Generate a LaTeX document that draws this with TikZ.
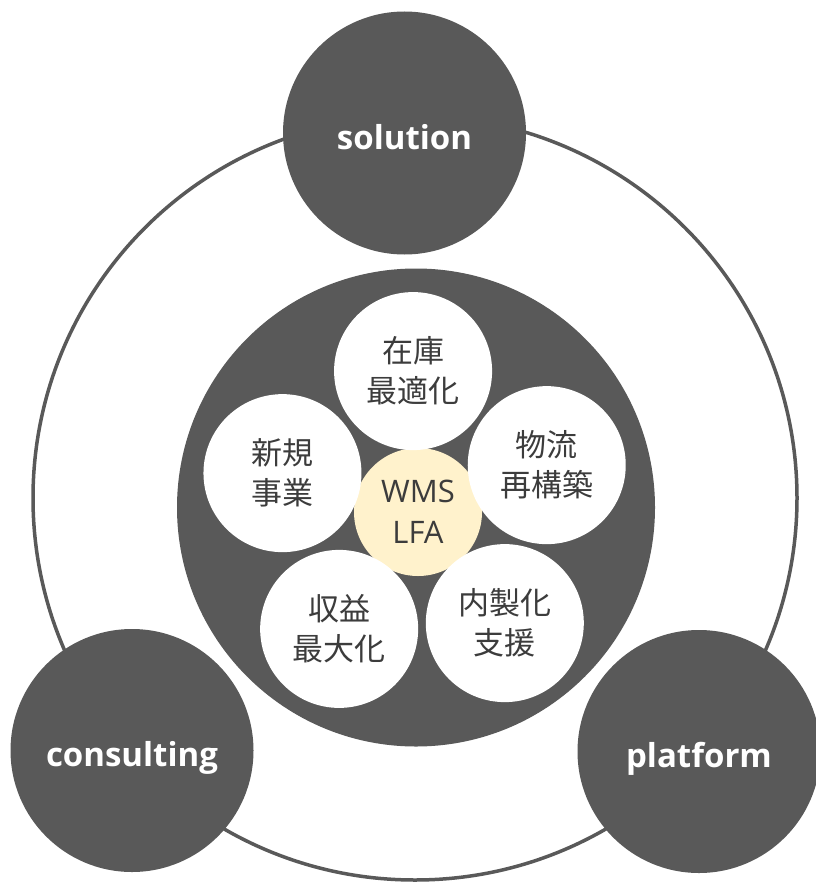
\documentclass[tikz,border=0pt]{standalone}
\usepackage{fontspec}
\setmainfont{Open Sans}
\newfontfamily\jpfont{Noto Sans CJK JP}
\definecolor{ballgray}{HTML}{595959}
\definecolor{wmsyellow}{HTML}{FFF2CC}
\definecolor{textgray}{HTML}{3C3C3C}

\begin{document}
\begin{tikzpicture}[
    x=1pt,y=1pt,
    every node/.style={circle,inner sep=0pt,outer sep=0pt,text centered},
    ball/.style={fill=ballgray,minimum size=243pt,text=white,font=\fontsize{33}{33}\selectfont\bfseries,text height=32pt,text depth=0pt},
    petal/.style={fill=white,minimum size=158pt,text=textgray,align=center,font=\jpfont\fontsize{31}{40}\selectfont}
    ]
    \useasboundingbox (0,0) rectangle (816,-883);

    \node[draw=ballgray,line width=3.5pt,minimum size=764pt] (ring) at (415,-498) {};
    \node[ball] (solution) at (404.5,-133) {solution};
    \node[ball] (consulting) at (132,-750.5) {consulting};
    \node[ball] (platform) at (699,-751.5) {platform};

    \node[fill=ballgray,minimum size=478pt] (hub) at (416,-507.5) {};
    \node[fill=wmsyellow,minimum size=128pt,text=textgray,align=center,font=\fontsize{31}{41}\selectfont] (wms) at (418,-512) {WMS\\LFA};
    \node[petal,shift={(92:141)}] (stock) at (wms) {在庫\\最適化};
    \node[petal,shift={(20:137)}] (logistics) at (wms) {物流\\再構築};
    \node[petal,shift={(164:141)}] (newbiz) at (wms) {新規\\事業};
    \node[petal,shift={(236:141)}] (profit) at (wms) {収益\\最大化};
    \node[petal,shift={(308:141)}] (inhouse) at (wms) {内製化\\支援};
  \end{tikzpicture}
\end{document}
